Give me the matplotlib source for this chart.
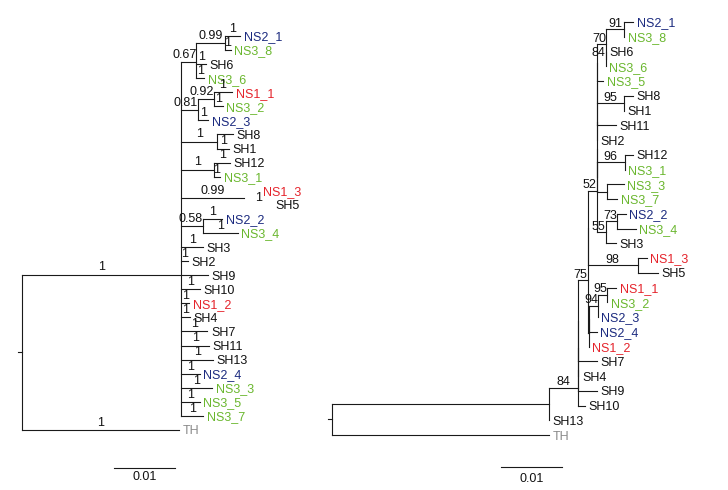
import matplotlib
matplotlib.use('Agg')
import matplotlib.pyplot as plt

plt.rcParams['font.family'] = ['Liberation Sans', 'DejaVu Sans']
plt.rcParams['font.size'] = 9

# left tree: bayesian consensus, posterior probability on every branch
left_newick = (
    "((((NS2_1:0.0026,NS3_8:0.0010)0.99:0.0046,SH6:0.0016,NS3_6:0.0013)0.67:0.0025,"
    "((NS1_1:0.0031,NS3_2:0.0015)0.92:0.0025,NS2_3:0.0016)0.81:0.0028,"
    "(SH8:0.0026,SH1:0.0020)1:0.0059,(SH12:0.0026,NS3_1:0.0010)1:0.0054,"
    "(NS1_3:0.0025,SH5:0.0046)0.99:0.0103,(NS2_2:0.0031,NS3_4:0.0057)0.58:0.0036,"
    "SH3:0.0036,SH2:0.0011,SH9:0.0044,SH10:0.0030,NS1_2:0.0013,SH4:0.0015,"
    "SH7:0.0043,SH11:0.0046,SH13:0.0052,NS2_4:0.0030,NS3_3:0.0051,NS3_5:0.0030,"
    "NS3_7:0.0036)1:0.0261,TH:0.0257);"
)
left_tip_support = '1'
left_tips_unlabelled = ['SH8', 'NS1_3', 'SH9']
left_hidden = ['NS1_3', 'SH5']

# right tree: ML tree with bootstrap values
c70 = "((NS2_1:0.0015,NS3_8:0)91:0.0030,(SH6:0,NS3_6:0)84:0)70:0.0015"
x5 = "((((" + c70 + ",NS3_5:0.0011):0,(SH8:0.0015,SH1:0)95:0.0044):0,SH11:0.0031):0,SH2:0)"
pair96 = "((SH12:0.0013,NS3_1:0)96:0.0046,(NS3_3:0.0028,NS3_7:0.0018):0.0016)"
c55 = "((NS2_2:0.0015,NS3_4:0.0031)73:0.0018,SH3:0.0016)55:0.0015"
c52 = "((" + x5 + ":0," + pair96 + ":0):0," + c55 + ")52:0.0015"
c98 = "(NS1_3:0.0015,SH5:0.0033)98:0.0082"
g94 = "((((NS1_1:0.0015,NS3_2:0)95:0.0015,NS2_3:0)94:0.0015,NS2_4:0.0013):0,NS1_2:0):0.0002"
c75 = "((" + c52 + "," + c98 + "):0," + g94 + ")75:0.0015"
c84 = "((((" + c75 + ",SH7:0.0031):0,SH4:0):0,SH9:0.0031):0,SH10:0.0010)84:0.0048"
right_newick = "((" + c84 + ",SH13:0):0.0356,TH:0.0356);"

tip_colours = {'NS1': '#e5232b', 'NS2': '#1b2a7f', 'NS3': '#6ab72e',
               'SH': '#111111', 'TH': '#8a8a8a'}

PX = 6100.0  # pixels per substitution unit (0.01 bar = 61 px)


def parse_newick(s):
    pos = 0

    def read_node():
        nonlocal pos
        node = {'children': [], 'name': '', 'length': 0.0}
        if s[pos] == '(':
            pos += 1
            while True:
                node['children'].append(read_node())
                if s[pos] == ',':
                    pos += 1
                    continue
                pos += 1
                break
        start = pos
        while s[pos] not in ':,);':
            pos += 1
        node['name'] = s[start:pos]
        if s[pos] == ':':
            pos += 1
            start = pos
            while s[pos] not in ',);':
                pos += 1
            node['length'] = float(s[start:pos])
        return node

    return read_node()


def layout(node, x0, leaves):
    node['x'] = x0 + node['length']
    if node['children']:
        for c in node['children']:
            layout(c, node['x'], leaves)
        node['y'] = sum(c['y'] for c in node['children']) / len(node['children'])
    else:
        node['y'] = len(leaves)
        leaves.append(node)


def colour_of(name):
    for k in ['NS1', 'NS2', 'NS3', 'SH', 'TH']:
        if name.startswith(k):
            return tip_colours[k]
    return 'black'


def text_w(s):
    return sum(3.5 if ch == '.' else 7.0 for ch in s) / PX


def draw_tree(ax, newick, lift, tip_support='', unlabelled=(), hidden=()):
    root = parse_newick(newick)
    leaves = []
    layout(root, 0.0, leaves)
    lc = '#1a1a1a'
    lw = 0.8
    # root stub
    ax.plot([-0.0006, 0], [root['y'], root['y']], color=lc, lw=lw)

    def walk(node):
        kids = node['children']
        if kids:
            if not all(k['name'] in hidden for k in kids):
                ys = [k['y'] for k in kids]
                ax.plot([node['x'], node['x']], [min(ys), max(ys)], color=lc, lw=lw)
            for k in kids:
                if k['name'] not in hidden:
                    ax.plot([node['x'], k['x']], [k['y'], k['y']], color=lc, lw=lw)
                if k['children']:
                    lab = k['name']
                else:
                    lab = '' if k['name'] in unlabelled else tip_support
                if lab:
                    mid = (node['x'] + k['x']) / 2
                    lx = min(mid, k['x'] - text_w(lab) / 2)
                    ax.annotate(lab, (lx, k['y']), xytext=(0, lift),
                                textcoords='offset points', ha='center',
                                va='baseline', color='#111111')
                walk(k)
        else:
            ax.annotate(node['name'], (node['x'], node['y']), xytext=(2.5, 0),
                        textcoords='offset points', ha='left',
                        va='center_baseline', color=colour_of(node['name']))

    walk(root)


fig = plt.figure(figsize=(7.28, 4.9), dpi=100)
fig.patch.set_facecolor('white')

ax1 = fig.add_axes([0, 0, 1, 1])
ax1.set_xlim(-22 / PX, (728 - 22) / PX)
ax1.set_ylim((490 - 36) / 14.07, -36 / 14.07)
ax1.axis('off')
draw_tree(ax1, left_newick, 3.0, left_tip_support, left_tips_unlabelled, left_hidden)
ax1.plot([0.0151, 0.0251], [30.7, 30.7], color='#1a1a1a', lw=0.8)
ax1.text(0.0201, 31.35, '0.01', ha='center', va='center', color='#111111')

ax2 = fig.add_axes([0, 0, 1, 1])
ax2.patch.set_alpha(0)
ax2.set_xlim(-332 / PX, (728 - 332) / PX)
ax2.set_ylim((490 - 22) / 14.75, -22 / 14.75)
ax2.axis('off')
draw_tree(ax2, right_newick, 1.8)
ax2.plot([0.0277, 0.0377], [30.2, 30.2], color='#1a1a1a', lw=0.8)
ax2.text(0.0327, 30.95, '0.01', ha='center', va='center', color='#111111')

fig.savefig('out.png', dpi=100, facecolor='white')
